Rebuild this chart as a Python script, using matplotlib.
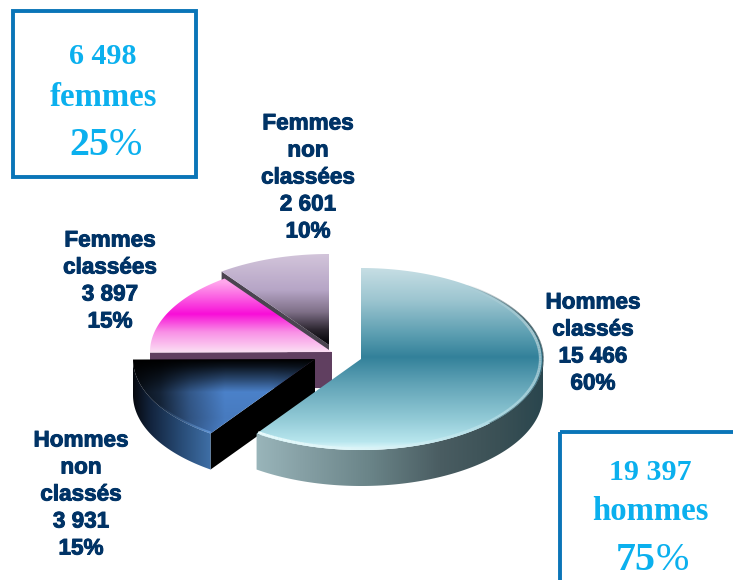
"""
Repartition hommes / femmes, classes / non classes - 3D style pie
"""

import numpy as np
import matplotlib

matplotlib.use("Agg")
import matplotlib.pyplot as plt
import matplotlib.patheffects as pe
from matplotlib.collections import LineCollection
from matplotlib.colors import to_rgb
from matplotlib.patches import Polygon, Rectangle

# Data, in drawing order around the pie (clockwise from 12 o'clock)
categories = ["Hommes classés", "Hommes non classés", "Femmes classées", "Femmes non classées"]
values = [15466, 3931, 3897, 2601]
value_labels = ["15 466", "3 931", "3 897", "2 601"]
pct_labels = ["60%", "15%", "15%", "10%"]

total_women = "6 498"
total_men = "19 397"
pct_women = "25"
pct_men = "75"

# Geometry (pixels)
RX = 182
RY = 91
DEPTH = 36
CENTERS = {
    "Hommes classés": (361, 359),
    "Hommes non classés": (315, 359),
    "Femmes classées": (332, 352),
    "Femmes non classées": (329, 345),
}
LABEL_POS = {
    "Hommes classés": (593, 303),
    "Hommes non classés": (81, 441),
    "Femmes classées": (110, 241),
    "Femmes non classées": (308, 124),
}
LINE_STEP = 27

NAVY = "#003366"
CYAN = "#0bb0ee"
BOX = "#0a75b8"

fig = plt.figure(figsize=(7.33, 5.80), dpi=100, facecolor="white")
ax = fig.add_axes([0, 0, 1, 1])
ax.set_axis_off()


def ramp(coords, stops):
    """Colour ramp: stops is a list of (position, colour)"""
    pos = [s[0] for s in stops]
    cols = np.array([to_rgb(s[1]) for s in stops])
    return np.stack([np.interp(coords, pos, cols[:, i]) for i in range(3)], axis=-1)


def arc(cx, cy, t0, t1, dy=0.0):
    t = np.radians(np.linspace(t0, t1, 120))
    return np.column_stack([cx + RX * np.sin(t), cy - RY * np.cos(t) + dy])


def fill_image(points, image, extent, zorder):
    """Paint an RGB image clipped to a polygon"""
    im = ax.imshow(image, extent=extent, origin="upper", aspect="auto",
                   interpolation="bilinear", zorder=zorder)
    clip = Polygon(points, closed=True, transform=ax.transData, fill=False, ec="none")
    ax.add_patch(clip)
    im.set_clip_path(clip)


def vertical_fill(points, stops, zorder):
    y0, y1 = points[:, 1].min(), points[:, 1].max()
    ys = np.arange(int(y0) - 1, int(y1) + 2)
    img = ramp(ys, stops)[:, None, :]
    fill_image(points, img, (points[:, 0].min(), points[:, 0].max(), ys[-1], ys[0]), zorder)


def horizontal_fill(points, stops, zorder):
    x0, x1 = points[:, 0].min(), points[:, 0].max()
    xs = np.arange(int(x0) - 1, int(x1) + 2)
    img = ramp(xs, stops)[None, :, :]
    fill_image(points, img, (xs[0], xs[-1], points[:, 1].max(), points[:, 1].min()), zorder)


def top_face(cx, cy, t0, t1):
    return np.vstack([[cx, cy], arc(cx, cy, t0, t1)])


def outer_side(cx, cy, t0, t1):
    t0, t1 = max(t0, 90), min(t1, 270)
    return np.vstack([arc(cx, cy, t0, t1), arc(cx, cy, t1, t0, DEPTH)])


def cut_face(cx, cy, t):
    p = arc(cx, cy, t, t)[0]
    return np.array([[cx, cy], p, [p[0], p[1] + DEPTH], [cx, cy + DEPTH]])


def rim_line(points, stops, lw, zorder):
    """Arc drawn with a colour and alpha that change along it"""
    segs = np.stack([points[:-1], points[1:]], axis=1)
    u = np.linspace(0, 1, len(segs))
    rgb = ramp(u, [(s[0], s[1]) for s in stops])
    alpha = np.interp(u, [s[0] for s in stops], [s[2] for s in stops])
    ax.add_collection(LineCollection(segs, colors=np.column_stack([rgb, alpha]),
                                     linewidths=lw, zorder=zorder))


# Slice angles come from the values
shares = np.array(values) / sum(values) * 360
ends = np.cumsum(shares)
starts = ends - shares
angles = dict(zip(categories, zip(starts, ends)))

# Femmes non classees
cx, cy = CENTERS["Femmes non classées"]
t0, t1 = angles["Femmes non classées"]
ax.add_patch(Polygon(cut_face(cx, cy, t0), closed=True, fc="#4a4450", ec="none", zorder=1))
vertical_fill(top_face(cx, cy, t0, t1),
              [(254, "#d2c4da"), (290, "#b6a5c6"), (312, "#7f7088"), (330, "#2c2630"), (341, "#0c0a10")], 2)

# Femmes classees
cx, cy = CENTERS["Femmes classées"]
t0, t1 = angles["Femmes classées"]
ax.add_patch(Polygon(cut_face(cx, cy, t0), closed=True, fc="#603f60", ec="none", zorder=3))
vertical_fill(top_face(cx, cy, t0, t1),
              [(282, "#ffa6ec"), (298, "#fb5ce2"), (314, "#f80ed8"), (332, "#f98fe6"), (352, "#fbdcf3")], 4)

# Hommes non classes
cx, cy = CENTERS["Hommes non classés"]
t0, t1 = angles["Hommes non classés"]
ax.add_patch(Polygon(cut_face(cx, cy, t0), closed=True, fc="#000000", ec="none", zorder=5))
horizontal_fill(outer_side(cx, cy, t0, t1),
                [(133, "#06090f"), (150, "#12233c"), (180, "#274a74"), (211, "#3f6fa6")], 5)
xs = np.arange(130, 320)
ys = np.arange(356, 436)
glow_x = np.interp(xs, [133, 160, 190, 225, 270, 316], [0.10, 0.28, 0.68, 1.0, 1.0, 0.8])
glow_y = np.interp(ys, [359, 366, 378, 392, 418, 434], [0.0, 0.15, 0.5, 0.95, 0.9, 0.95])
blue = np.outer(glow_y, glow_x)[:, :, None] * np.array(to_rgb("#4f88d4"))
fill_image(top_face(cx, cy, t0, t1), blue, (xs[0], xs[-1], ys[-1], ys[0]), 6)
rim_line(arc(cx, cy, t0, t0 + 26) - [0, 1],
         [(0, "#6fa6e6", 0.9), (1, "#2a4a70", 0.0)], 1.4, 7)

# Hommes classes
cx, cy = CENTERS["Hommes classés"]
t0, t1 = angles["Hommes classés"]
horizontal_fill(outer_side(cx, cy, t0, t1),
                [(254, "#9ab6bb"), (300, "#87a1a6"), (370, "#6a8488"), (440, "#4a5d62"),
                 (500, "#3a5055"), (543, "#2a464e")], 8)
vertical_fill(top_face(cx, cy, t0, t1),
              [(268, "#c6dee4"), (300, "#9cc5d0"), (335, "#5a9db0"), (357, "#33819a"),
               (385, "#62a4b7"), (420, "#93cbd7"), (442, "#b8e6ee"), (451, "#e6fbfd")], 9)
# soft bevel along the front edge: pale ring just inside, dark on the far right
ring = arc(cx, cy, 35, t1) * 0.985 + np.array([cx, cy]) * 0.015
rim_line(ring, [(0, "#c5dfe5", 0.0), (0.2, "#c5d8dc", 0.7), (0.55, "#c0e4ec", 0.6), (1, "#f0ffff", 0.9)], 2.0, 10)
rim_line(arc(cx, cy, 35, 135), [(0, "#2a464e", 0.0), (0.3, "#2a464e", 0.8), (1, "#2a464e", 0.5)], 1.2, 10)


def label(x, y, text, **kw):
    return ax.text(x, y, text, ha="center", va="center", zorder=20, **kw)


# Slice labels
for cat, val, pct in zip(categories, value_labels, pct_labels):
    x, y = LABEL_POS[cat]
    lines = cat.split(" ") + [val, pct]
    for i, line in enumerate(lines):
        t = label(x, y + i * LINE_STEP, line, color=NAVY, fontsize=16.2,
                  family="Liberation Sans", fontweight="bold")
        t.set_path_effects([pe.withStroke(linewidth=0.7, foreground=NAVY)])


# Summary boxes
def summary(x, y, count, word, pct):
    serif = dict(color=CYAN, family="Liberation Serif")
    label(x, y, count, fontsize=21.6, fontweight="bold", **serif)
    label(x, y + 40, word, fontsize=23.6, fontweight="bold", **serif)
    ax.text(x + 6, y + 98, pct, ha="right", va="baseline", fontsize=28.8, fontweight="bold", zorder=20, **serif)
    ax.text(x + 6, y + 98, "%", ha="left", va="baseline", fontsize=28.8, zorder=20, **serif)


ax.add_patch(Rectangle((13, 11), 183, 166, fc="none", ec=BOX, lw=2.8, zorder=15))
ax.add_patch(Rectangle((560, 432), 200, 200, fc="none", ec=BOX, lw=2.8, zorder=15))
summary(103, 57, total_women, "femmes", pct_women)
summary(650, 472, total_men, "hommes", pct_men)

ax.set_xlim(0, 733)
ax.set_ylim(580, 0)

plt.savefig("out.png", dpi=100, facecolor="white")
